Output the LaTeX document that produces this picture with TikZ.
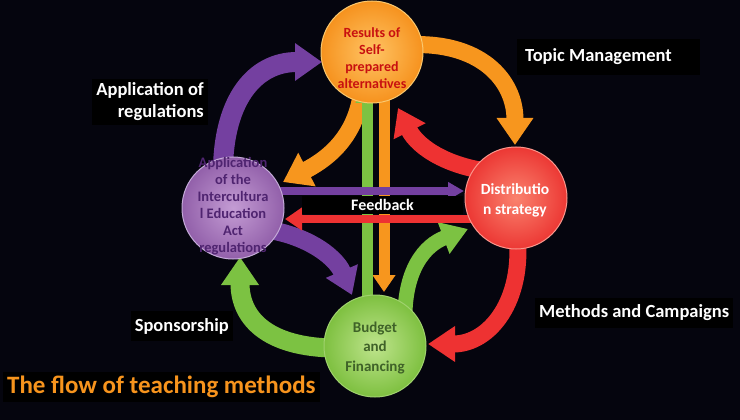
\documentclass[tikz,border=0pt]{standalone}
\usepackage{fontspec}
\setmainfont{Carlito}
\usetikzlibrary{arrows.meta}
\definecolor{bg}{HTML}{05050E}
\definecolor{pband}{HTML}{7440A0}
\definecolor{oband}{HTML}{F7961E}
\definecolor{rband}{HTML}{EE3232}
\definecolor{gband}{HTML}{7CC242}
\definecolor{ptext}{HTML}{4F2470}
\definecolor{otext}{HTML}{C81010}
\definecolor{gtext}{HTML}{3F6228}
\definecolor{ttl}{HTML}{F7941D}
\tikzset{
  band/.style={line width=#1},
  circ/.style={circle, minimum size=102pt, inner sep=0pt, line width=1pt},
  ctext/.style={align=center, inner sep=0pt},
  lbl/.style={fill=black, text=white, font=\bfseries\fontsize{18.5}{22}\selectfont, inner sep=4pt},
}
\begin{document}
\begin{tikzpicture}[x=1pt,y=-1pt]
\fill[bg] (0,0) rectangle (740,420);
\useasboundingbox (0,0) rectangle (740,420);

% anchor coordinates
\coordinate (p1s) at (223,180);
\coordinate (p1t) at (322,62);
\coordinate (o1s) at (405,45);
\coordinate (o1t) at (515,145);
\coordinate (r1s) at (495,172);
\coordinate (r1t) at (398,108);
\coordinate (r2s) at (517,235);
\coordinate (r2t) at (428,344);
\coordinate (g1s) at (405,325);
\coordinate (g1t) at (468,229);
\coordinate (p2s) at (250,228);
\coordinate (p2t) at (352,295);
\coordinate (g2s) at (345,348);
\coordinate (g2t) at (240,257);
\coordinate (o2s) at (362,88);
\coordinate (o2t) at (283,182);

% curved arrows
\draw[pband, band=20, -{Triangle[length=27pt,width=36pt]}] (p1s) .. controls (221,100) and (255,62) .. (p1t);
\draw[oband, band=17, -{Triangle[length=27pt,width=35pt]}] (o1s) .. controls (480,40) and (515,80) .. (o1t);
\draw[rband, band=17, -{Triangle[length=26pt,width=34pt]}] (r1s) .. controls (450,168) and (418,148) .. (r1t);
\draw[rband, band=17, -{Triangle[length=27pt,width=34pt]}] (r2s) .. controls (524,300) and (490,344) .. (r2t);
\draw[gband, band=15, -{Triangle[length=26pt,width=32pt]}] (g1s) .. controls (403,270) and (425,245) .. (g1t);
\draw[pband, band=18, -{Triangle[length=26pt,width=33pt]}] (p2s) .. controls (300,230) and (335,255) .. (p2t);
\draw[gband, band=19, -{Triangle[length=28pt,width=36pt]}] (g2s) .. controls (270,350) and (240,320) .. (g2t);
\draw[oband, band=17, -{Triangle[length=27pt,width=36pt]}] (o2s) .. controls (358,130) and (335,155) .. (o2t);

% vertical straight arrows
\coordinate (ov1) at (384,95);
\coordinate (ov2) at (384,292);
\coordinate (gv1) at (367,305);
\coordinate (gv2) at (367,85);
\draw[oband, band=11, -{Triangle[length=17pt,width=22pt]}] (ov1) -- (ov2);
\draw[gband, band=11, -{Triangle[length=18pt,width=22pt]}] (gv1) -- (gv2);

% horizontal straight arrows
\coordinate (ph1) at (275,191);
\coordinate (ph2) at (464,191);
\coordinate (rh1) at (475,219);
\coordinate (rh2) at (285,219);
\draw[pband, band=8, -{Triangle[length=16pt,width=17pt]}] (ph1) -- (ph2);
\draw[rband, band=8, -{Triangle[length=17pt,width=22pt]}] (rh1) -- (rh2);

% feedback box
\node[fill=black, minimum width=161pt, minimum height=18pt, inner sep=0pt, text=white,
      font=\bfseries\fontsize{16}{18}\selectfont] (fb) at (382.5,205) {Feedback};

% circles
\node[circ, draw={rgb,255:red,250;green,200;blue,110}, inner color={rgb,255:red,255;green,196;blue,100}, outer color={rgb,255:red,246;green,146;blue,30}] (res) at (372,52) {};
\node[circ, draw={rgb,255:red,196;green,170;blue,216}, inner color={rgb,255:red,196;green,156;blue,212}, outer color={rgb,255:red,146;green,96;blue,170}] (app) at (233,208) {};
\node[circ, draw={rgb,255:red,250;green,150;blue,140}, inner color={rgb,255:red,250;green,130;blue,110}, outer color={rgb,255:red,236;green,56;blue,52}] (dist) at (516,198) {};
\node[circ, draw={rgb,255:red,160;green,210;blue,110}, inner color={rgb,255:red,190;green,228;blue,140}, outer color={rgb,255:red,126;green,192;blue,64}] (bud) at (375,346) {};

% circle texts
\node[ctext, text=otext, font=\bfseries\fontsize{14}{17}\selectfont] (rest) at (372,58) {Results of\\Self-\\prepared\\alternatives};
\node[ctext, text=ptext, font=\bfseries\fontsize{14.5}{17}\selectfont] (appt) at (233,206) {Application\\of the\\Intercultura\\l Education\\Act\\regulations};
\node[ctext, text=white, font=\bfseries\fontsize{15.5}{20}\selectfont] (distt) at (515,200) {Distributio\\n strategy};
\node[ctext, text=gtext, font=\bfseries\fontsize{15}{19.5}\selectfont] (budt) at (375,348) {Budget\\and\\Financing};

% labels
\fill[black] (517,39) rectangle (700,75);
\node[lbl, anchor=west] (tm) at (521,57) {Topic Management};
\node[lbl, align=right, anchor=east] (ar) at (208,102) {Application of\\regulations};
\node[lbl, anchor=east, minimum height=30pt] (sp) at (233,326) {Sponsorship};
\node[lbl, anchor=west, minimum height=30pt] (mc) at (535,313) {Methods and Campaigns};
\node[fill=black, text=ttl, anchor=west, inner sep=4pt, font=\bfseries\fontsize{25}{28}\selectfont] (title) at (3,387) {The flow of teaching methods};
\end{tikzpicture}
\end{document}
